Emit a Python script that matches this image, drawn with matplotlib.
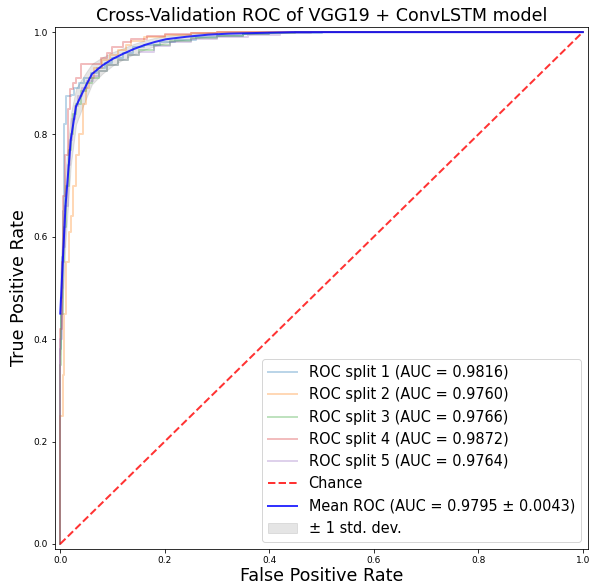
import numpy as np
import matplotlib
matplotlib.use("Agg")
import matplotlib.pyplot as plt

# ---- data ----
split_names = ["ROC split 1", "ROC split 2", "ROC split 3", "ROC split 4", "ROC split 5"]
split_auc = [0.9816, 0.9760, 0.9766, 0.9872, 0.9764]

fpr_1 = [0, 0.002, 0.004, 0.006, 0.008, 0.012, 0.021, 0.027, 0.035, 0.046, 0.058, 0.07, 0.085,
         0.10, 0.12, 0.14, 0.16, 0.19, 0.22, 0.26, 0.30, 0.35, 0.40, 0.45, 0.50, 1.0]
tpr_1 = [0.38, 0.48, 0.56, 0.65, 0.82, 0.875, 0.878, 0.89, 0.90, 0.91, 0.92, 0.93, 0.94,
         0.95, 0.96, 0.97, 0.975, 0.98, 0.985, 0.99, 0.993, 0.996, 0.998, 0.999, 1.0, 1.0]

fpr_2 = [0, 0.005, 0.008, 0.012, 0.016, 0.02, 0.025, 0.03, 0.036, 0.044, 0.05, 0.056, 0.065,
         0.08, 0.095, 0.11, 0.125, 0.135, 0.16, 0.2, 0.25, 0.3, 1.0]
tpr_2 = [0.25, 0.33, 0.45, 0.55, 0.61, 0.64, 0.70, 0.76, 0.80, 0.86, 0.89, 0.91, 0.93,
         0.945, 0.955, 0.965, 0.975, 0.983, 0.99, 0.995, 0.998, 1.0, 1.0]

fpr_3 = [0, 0.002, 0.005, 0.008, 0.012, 0.016, 0.02, 0.025, 0.03, 0.04, 0.05, 0.06, 0.075,
         0.09, 0.11, 0.13, 0.15, 0.18, 0.21, 0.25, 0.3, 0.35, 0.4, 0.45, 1.0]
tpr_3 = [0.35, 0.45, 0.55, 0.62, 0.70, 0.77, 0.80, 0.84, 0.86, 0.885, 0.90, 0.91, 0.925,
         0.935, 0.945, 0.955, 0.965, 0.975, 0.982, 0.988, 0.993, 0.996, 0.998, 1.0, 1.0]

fpr_4 = [0, 0.003, 0.006, 0.01, 0.014, 0.018, 0.024, 0.03, 0.04, 0.078, 0.09, 0.10, 0.12,
         0.135, 0.167, 0.2, 0.25, 0.3, 1.0]
tpr_4 = [0.42, 0.55, 0.68, 0.76, 0.85, 0.888, 0.90, 0.91, 0.937, 0.95, 0.96, 0.97, 0.98,
         0.986, 0.993, 0.996, 0.999, 1.0, 1.0]

fpr_5 = [0, 0.003, 0.006, 0.01, 0.014, 0.018, 0.022, 0.028, 0.034, 0.042, 0.052, 0.062, 0.075,
         0.09, 0.11, 0.13, 0.15, 0.18, 0.21, 0.25, 0.3, 0.36, 0.42, 0.48, 1.0]
tpr_5 = [0.40, 0.50, 0.58, 0.66, 0.74, 0.79, 0.83, 0.855, 0.875, 0.89, 0.905, 0.915, 0.925,
         0.935, 0.945, 0.955, 0.962, 0.972, 0.98, 0.986, 0.991, 0.995, 0.998, 1.0, 1.0]

mean_fpr = [0, 0.0101, 0.0202, 0.0303, 0.0404, 0.0505, 0.0606, 0.0808, 0.101, 0.121, 0.141,
            0.162, 0.182, 0.202, 0.242, 0.283, 0.323, 0.364, 0.404, 0.444, 0.485, 1.0]
mean_tpr = [0.45, 0.66, 0.79, 0.855, 0.877, 0.898, 0.918, 0.935, 0.948, 0.958, 0.967,
            0.975, 0.981, 0.986, 0.991, 0.995, 0.997, 0.998, 0.999, 1.0, 1.0, 1.0]
std_tpr = [0.08, 0.07, 0.05, 0.035, 0.03, 0.025, 0.02, 0.016, 0.013, 0.011, 0.01,
           0.009, 0.008, 0.007, 0.005, 0.004, 0.003, 0.002, 0.001, 0.0, 0.0, 0.0]
mean_auc = 0.9795
std_auc = 0.0043

splits_fpr = [fpr_1, fpr_2, fpr_3, fpr_4, fpr_5]
splits_tpr = [tpr_1, tpr_2, tpr_3, tpr_4, tpr_5]

# ---- figure ----
W, H = 590, 588
fig = plt.figure(figsize=(W / 72, H / 72), dpi=72)
ax = fig.add_axes([55 / W, (H - 549) / H, 533 / W, 522 / H])

for i, (f, t) in enumerate(zip(splits_fpr, splits_tpr)):
    ax.step([0] + f, [0] + t, where="post", lw=2, alpha=0.3, color=f"C{i}",
            label=f"{split_names[i]} (AUC = {split_auc[i]:.4f})")

ax.plot([0, 1], [0, 1], linestyle="--", lw=2, color="r", alpha=0.8, label="Chance")

mt = np.array(mean_tpr)
sd = np.array(std_tpr)
ax.plot(mean_fpr, mt, color="b", lw=2, alpha=0.8,
        label=f"Mean ROC (AUC = {mean_auc:.4f} \u00b1 {std_auc:.4f})")
ax.fill_between(mean_fpr, np.maximum(mt - sd, 0), np.minimum(mt + sd, 1),
                color="grey", alpha=0.2, label="\u00b1 1 std. dev.")

ax.set_xlim(-0.01, 1.01)
ax.set_ylim(-0.01, 1.01)
ax.set_xlabel("False Positive Rate", fontsize=17.5, labelpad=2)
ax.set_ylabel("True Positive Rate", fontsize=17.5, labelpad=6)
ax.set_title("Cross-Validation ROC of VGG19 + ConvLSTM model", fontsize=17.5, pad=6)
ax.tick_params(labelsize=9)
ax.legend(loc="lower right", fontsize=14.5)

fig.savefig("out.png", dpi=72)
